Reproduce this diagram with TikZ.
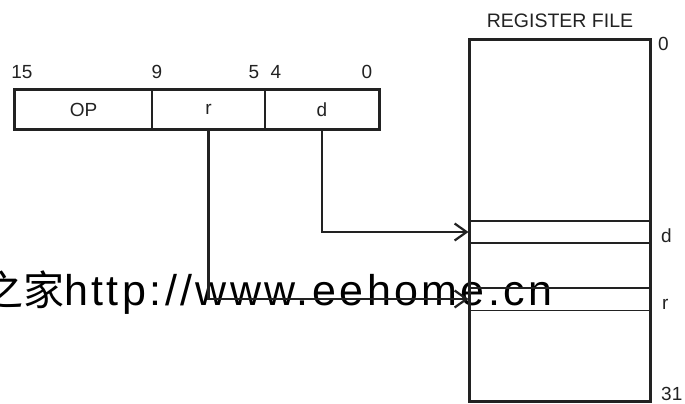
\documentclass[tikz,border=0pt]{standalone}
\usepackage{fontspec}
\setmainfont{Liberation Sans}
\newfontfamily\cjkfont{Noto Sans CJK SC}
\newfontfamily\wmfont[LetterSpace=8]{Liberation Sans}
\usetikzlibrary{arrows.meta}
\definecolor{ink}{HTML}{222222}
\tikzset{
  lbl/.style={inner sep=0pt, font=\fontsize{19}{21}\selectfont, text=ink},
  field/.style={inner sep=0pt, minimum height=39pt, font=\fontsize{19}{21}\selectfont, text=ink},
  outer/.style={draw=ink, line width=3pt},
  divider/.style={draw=ink, line width=1.4pt},
  rowline/.style={draw=ink, line width=1.8pt},
  conn/.style={draw=ink, line width=2.4pt, -{Straight Barb[length=12pt,width=17pt,line width=2.2pt]}},
}
\begin{document}
\begin{tikzpicture}[x=1pt,y=-1pt]
\useasboundingbox (0,0) rectangle (685,404);
% watermark
\node[anchor=base west, inner sep=0pt] (wm) at (-18,305)
  {{\cjkfont\fontsize{41}{44}\selectfont 之家}{\wmfont\fontsize{43}{46}\selectfont http://www.eehome.cn}};
% instruction fields
\node[field, minimum width=137pt] (op) at (83.5,109.5) {OP};
\node[field, minimum width=113pt] (rf) at (208.5,109.5) {r};
\node[field, minimum width=114pt] (df) at (322,109.5) {d};
\draw[outer] (op.north west) rectangle (df.south east);
\draw[divider] (rf.north west) -- (rf.south west);
\draw[divider] (df.north west) -- (df.south west);
% bit numbers
\node[lbl] (b15) at (22,72) {15};
\node[lbl] (b9) at (157,72) {9};
\node[lbl] (b5) at (254,72) {5};
\node[lbl] (b4) at (276,72) {4};
\node[lbl] (b0) at (367,72) {0};
% register file
\node[draw=ink, line width=3pt, minimum width=181pt, minimum height=361pt, inner sep=0pt] (reg) at (559.5,220.5) {};
\node[lbl, font=\fontsize{19.5}{21}\selectfont] (regt) at (560,21) {REGISTER FILE};
\coordinate (d1) at (469,221);
\coordinate (d2) at (469,243);
\coordinate (r1) at (469,288);
\coordinate (r2) at (469,310.5);
\draw[rowline] (d1) -- (d1 -| reg.east);
\draw[rowline] (d2) -- (d2 -| reg.east);
\draw[rowline] (r1) -- (r1 -| reg.east);
\draw[rowline] (r2) -- (r2 -| reg.east);
\node[lbl, anchor=west] (l0) at (658,44) {0};
\node[lbl, anchor=west] (ld) at (661,236) {d};
\node[lbl, anchor=west] (lr) at (662,304) {r};
\node[lbl, anchor=west] (l31) at (661,394) {31};
% connectors
\coordinate (dA) at (468.5,232);
\coordinate (rA) at (468.5,299);
\draw[conn] (df.south) |- (dA);
\draw[conn] (rf.south) |- (rA);
\end{tikzpicture}
\end{document}
